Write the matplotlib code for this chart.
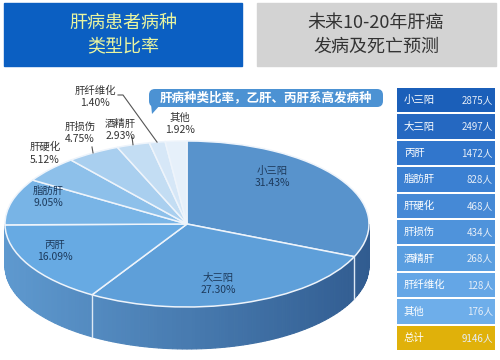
import numpy as np
import matplotlib
matplotlib.use("Agg")
import matplotlib.pyplot as plt
from matplotlib.patches import Rectangle, FancyBboxPatch, Polygon
from matplotlib.colors import to_rgb

plt.rcParams['font.family'] = ['Noto Sans CJK SC', 'DejaVu Sans']

# pie data (clockwise from 12 o'clock)
names = ['小三阳', '大三阳', '丙肝', '脂肪肝', '肝硬化', '肝损伤', '酒精肝', '肝纤维化', '其他']
pcts = [31.43, 27.30, 16.09, 9.05, 5.12, 4.75, 2.93, 1.40, 1.92]

# table on the right
tbl_names = ['小三阳', '大三阳', '丙肝', '脂肪肝', '肝硬化', '肝损伤', '酒精肝', '肝纤维化', '其他', '总计']
tbl_counts = [2875, 2497, 1472, 828, 468, 434, 268, 128, 176, 9146]

top_colors = ['#5893cc', '#5e9fd9', '#67aae3', '#78b4e6', '#8dc0ea',
              '#a9cfef', '#c3ddf3', '#d6e7f7', '#e6f0fa']
row_colors = ['#1b5fb9', '#2568c1', '#3176cc', '#3b80d2', '#4589d6',
              '#4f93db', '#5a9ee0', '#64a6e6', '#6eaeea', '#e0b10a']

# pie geometry in pixels (500x360 canvas)
CX, CY, A, B, T = 187, 224, 182, 83, 42

fig = plt.figure(figsize=(5, 3.6), dpi=100)

# pie axes: one data unit = A px horizontally, B px vertically
pax = fig.add_axes([0, 0, 1, 1])
thick = T / B

# side of the cylinder, shaded left->right
light = np.array(to_rgb('#5e99cf'))
dark = np.array(to_rgb('#315c90'))
th = np.linspace(np.pi, 2 * np.pi, 121)
for i in range(len(th) - 1):
    t = np.linspace(th[i], th[i + 1], 4)
    xs = np.cos(t)
    ys = np.sin(t)
    f = (np.cos(th[i]) + 1) / 2
    col = light * (1 - f) + dark * f
    px = np.concatenate([xs, xs[::-1]])
    py = np.concatenate([ys, ys[::-1] - thick])
    pax.fill(px, py, facecolor=col, edgecolor=col, lw=0.8)

# white seams on the side where wedge borders face front
bounds = 90 - 360 * np.cumsum([0] + pcts) / 100.0
for b in bounds:
    r = np.deg2rad(b)
    if np.sin(r) < -0.05:
        pax.plot([np.cos(r), np.cos(r)], [np.sin(r), np.sin(r) - thick], color='#dce8f4', lw=1.0)

pax.pie(pcts, colors=top_colors, startangle=90, counterclock=False,
        wedgeprops=dict(edgecolor='#eef4fb', linewidth=1.1))
pax.set_aspect('auto')
pax.set_xlim(-CX / A, (500 - CX) / A)
pax.set_ylim(-(360 - CY) / B, CY / B)
pax.axis('off')

# overlay axes in pixel coordinates
ax = fig.add_axes([0, 0, 1, 1])
ax.set_xlim(0, 500)
ax.set_ylim(360, 0)
ax.axis('off')
ax.patch.set_alpha(0)

# header boxes
ax.add_patch(Rectangle((4, 3), 238, 63, color='#0b5fc2'))
ax.text(123, 35, '肝病患者病种\n类型比率', ha='center', va='center', fontsize=13,
        color='#e9f5a0', linespacing=1.45)
ax.add_patch(Rectangle((257, 3), 239, 63, color='#d3d3d3'))
ax.text(376, 35, '未来10-20年肝癌\n发病及死亡预测', ha='center', va='center', fontsize=13,
        color='#333333', linespacing=1.45)

# callout bubble
ax.add_patch(FancyBboxPatch((149, 89), 234, 18, boxstyle='round,pad=0,rounding_size=6',
                            color='#4c92d3', lw=0))
ax.add_patch(Polygon([[151, 104], [161, 104], [152, 114]], closed=True, color='#4c92d3', lw=0))
ax.text(266, 98, '肝病种类比率，乙肝、丙肝系高发病种', ha='center', va='center',
        fontsize=9, color='white', fontweight='bold')

# pie labels
label_pos = [(272, 177), (218, 284), (55, 251), (48, 197), (45, 153),
             (80, 133), (120, 130), (95, 97), (180, 124)]
for i, (n, p) in enumerate(zip(names, pcts)):
    x, y = label_pos[i]
    c = '#1d3a5c' if i < 4 else '#333333'
    ax.text(x, y, '%s\n%.2f%%' % (n, p), ha='center', va='center', fontsize=7.5,
            color=c, linespacing=1.35)

# leader lines for the small outer slices
mids = 90 - 360 * (np.cumsum(pcts) - np.array(pcts) / 2) / 100.0
leaders = {5: (92, 147), 6: (132, 137), 7: (118, 95)}
for i, (sx, sy) in leaders.items():
    r = np.deg2rad(mids[i])
    ex = CX + A * np.cos(r)
    ey = CY - B * np.sin(r)
    if i == 7:
        ax.plot([sx, sx + 5, ex], [sy, sy, ey], color='#555555', lw=0.8)
    else:
        ax.plot([sx, ex], [sy, ey], color='#555555', lw=0.8)

# table
row_h = 26.4
for i, (n, c) in enumerate(zip(tbl_names, tbl_counts)):
    y0 = 88 + i * row_h
    ax.add_patch(Rectangle((397, y0), 98, row_h - 2, color=row_colors[i], lw=0))
    ax.text(404, y0 + (row_h - 2) / 2, n, ha='left', va='center', fontsize=7.5, color='white')
    ax.text(493, y0 + (row_h - 2) / 2, '%d人' % c, ha='right', va='center', fontsize=7,
            color='#e6eef8')

fig.savefig('out.png', dpi=100)
